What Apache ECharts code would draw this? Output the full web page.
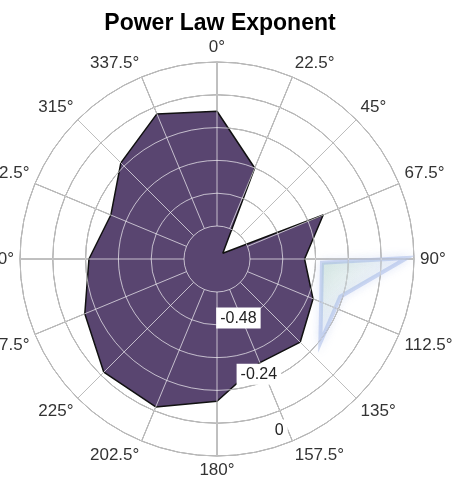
<!DOCTYPE html>
<html>
<head>
<meta charset="utf-8">
<script src="https://cdn.jsdelivr.net/npm/echarts@6/dist/echarts.min.js"></script>
<style>
  html, body { margin: 0; padding: 0; background: #fff; }
  #chart { width: 458px; height: 486px; }
</style>
</head>
<body>
<div id="chart"></div>
<script>
// wind direction (deg, clockwise from north) and power law exponent
const directions = [0, 22.5, 45, 67.5, 90, 112.5, 135, 157.5, 180, 202.5, 225, 247.5, 270, 292.5, 315, 337.5, 360];
const exponents = [-0.18, -0.36, -0.69, -0.30, -0.40, -0.34, -0.29, -0.31, -0.20, -0.135, -0.135, -0.197, -0.252, -0.30, -0.223, -0.146, -0.18];
const radiusTicks = [-0.48, -0.24, 0];
// faint blurred shape on the right side
const ghostAngles = [92, 89.7, 107, 129];
const ghostValues = [-0.336, -0.026, -0.249, -0.234];

const center = [217, 259];
const R = 197;
const R0 = 33;
const font = 'Liberation Sans, Arial, sans-serif';

const chart = echarts.init(document.getElementById('chart'));

// grid axes shared by the gray layer and the light overlay layer
function gridAngle(idx, color, z, labels) {
    return {
        polarIndex: idx, type: 'value', min: 0, max: 360, interval: 22.5,
        startAngle: 90, clockwise: true, z: z,
        axisLine: {show: false},
        axisTick: {show: false},
        axisLabel: {
            show: labels, margin: 6, color: '#333', fontSize: 17, fontFamily: font,
            formatter: v => v === 360 ? '' : v + '°'
        },
        splitLine: {show: true, lineStyle: {color: color, width: 1}}
    };
}
function gridRadius(idx, color, z) {
    return {
        polarIndex: idx, type: 'value', min: -0.60, max: 0, interval: 0.12, z: z,
        axisLine: {show: false},
        axisTick: {show: false},
        axisLabel: {show: false},
        splitLine: {show: true, lineStyle: {color: color, width: 1}}
    };
}

chart.setOption({
    animation: false,
    title: {
        text: 'Power Law Exponent',
        left: 215, top: 7, textAlign: 'center',
        textStyle: {fontSize: 23, fontWeight: 'bold', color: '#000', fontFamily: font}
    },
    polar: [
        {center: center, radius: [0, R]},
        {center: center, radius: [R0, R]},
        {center: center, radius: [R0, R]},
        {center: [218, 262], radius: [0, 179]}
    ],
    angleAxis: [
        {polarIndex: 0, type: 'value', min: 0, max: 360, startAngle: 90, clockwise: true, show: false},
        gridAngle(1, '#454545', 0, true),
        gridAngle(2, 'rgba(255,255,255,0.65)', 3, false),
        {polarIndex: 3, type: 'value', min: 0, max: 360, startAngle: -70, show: false}
    ],
    radiusAxis: [
        {polarIndex: 0, type: 'value', min: -0.72, max: 0, interval: 0.12, show: false},
        gridRadius(1, '#454545', 0),
        gridRadius(2, 'rgba(255,255,255,0.65)', 3),
        {
            polarIndex: 3, type: 'value', min: -0.72, max: 0, interval: 0.12, z: 4,
            axisLine: {show: false},
            axisTick: {show: false},
            splitLine: {show: false},
            axisLabel: {
                margin: 0, align: 'center', verticalAlign: 'middle',
                formatter: function (v) {
                    const t = radiusTicks.find(x => Math.abs(x - v) < 1e-9);
                    return t === undefined ? '' : '{b|' + t + '}';
                },
                rich: {
                    b: {backgroundColor: '#fff', padding: [3, 4, 2, 4], fontSize: 16, color: '#222', fontFamily: font}
                }
            }
        }
    ],
    series: [
        {
            type: 'line',
            coordinateSystem: 'polar',
            polarIndex: 0,
            z: 2,
            symbol: 'none',
            data: directions.map((a, i) => [exponents[i], a]),
            lineStyle: {color: '#111', width: 1.5},
            areaStyle: {color: '#594570', opacity: 1, origin: 'start'}
        },
        {
            type: 'custom',
            coordinateSystem: 'polar',
            polarIndex: 0,
            z: 2,
            data: [[ghostValues[0], ghostAngles[0]]],
            renderItem: function (params, api) {
                const pts = ghostAngles.map((a, i) => api.coord([ghostValues[i], a]));
                return {
                    type: 'polygon',
                    shape: {points: pts},
                    style: {
                        fill: new echarts.graphic.LinearGradient(0, 0, 1, 1, [
                            {offset: 0, color: 'rgba(150,210,150,0.3)'},
                            {offset: 0.5, color: 'rgba(235,240,250,0.2)'},
                            {offset: 1, color: 'rgba(140,160,225,0.35)'}
                        ]),
                        stroke: 'rgba(140,165,225,0.4)',
                        lineWidth: 4,
                        shadowBlur: 10,
                        shadowColor: 'rgba(140,165,225,0.6)'
                    }
                };
            }
        }
    ]
});
</script>
</body>
</html>
